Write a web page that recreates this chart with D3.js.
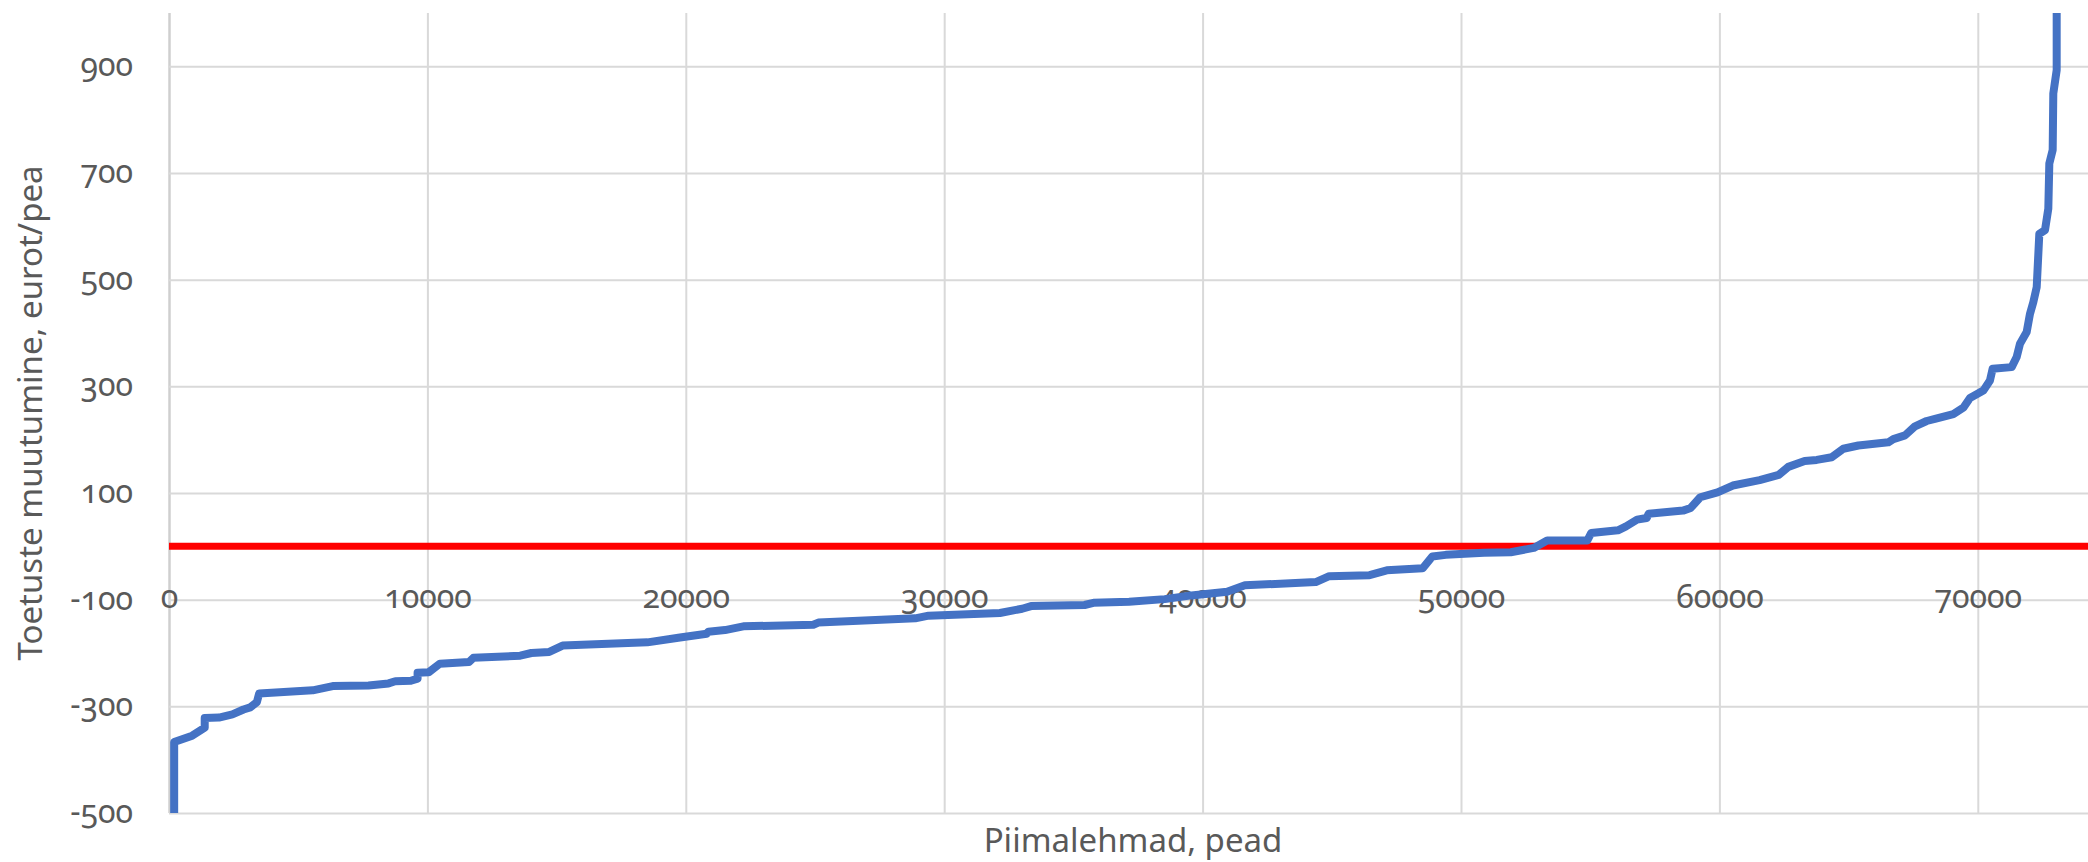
<!DOCTYPE html>
<html>
<head>
<meta charset="utf-8">
<script src="https://cdn.jsdelivr.net/npm/d3@7"></script>
<style>
  html, body { margin: 0; padding: 0; background: #fff; }
  svg text { font-family: "Noto Sans", "Open Sans", sans-serif; fill: #595959; font-variant-numeric: oldstyle-nums; }
</style>
</head>
<body>
<div id="vis"></div>
<script>
const WIDTH = 2088;
const HEIGHT = 862;

// cumulative dairy cows (x) and change in subsidies, eur/head (y)
const cows = [
	200, 200, 898, 1382, 1382, 1934, 2453, 2884, 3143, 3402, 3489, 5561, 6339, 7720, 8497, 8756,
	9361, 9620, 9620, 10052, 10484, 11606, 11779, 13592, 14024, 14715, 15233, 18515, 19776, 20808,
	20872, 21517, 22226, 24935, 25129, 26466, 28879, 29397, 32155, 33017, 33362, 35431, 35776, 37155,
	38534, 39569, 40948, 41638, 44380, 44900, 46460, 47130, 48519, 48889, 49407, 50889, 51926, 52815,
	53333, 54889, 55037, 56074, 56370, 56815, 57185, 57259, 58593, 58889, 59259, 59926, 60519, 61556,
	62296, 62667, 63300, 63766, 64345, 64796, 65377, 66538, 66731, 67183, 67570, 68022, 68343, 69053,
	69440, 69698, 70214, 70472, 70575, 71311, 71505, 71633, 71892, 72020, 72149, 72280, 72381, 72601,
	72729, 72768, 72898, 72922, 73053, 73053
];
const change = [
	-500, -367, -355, -340, -322, -321, -315, -306, -302, -292, -276, -270, -262, -261, -257, -253,
	-252, -248, -237, -236, -220, -217, -209, -205, -200, -198, -186, -180, -171, -164,
	-160, -157, -150, -147, -143, -140, -135, -130, -125, -117, -112, -110, -106, -104,
	-99, -92, -85, -73, -67, -56, -54, -45, -41, -19, -16, -12, -11, -3,
	11, 11, 25, 30, 37, 50, 53, 61, 67, 72, 92, 101, 114, 124,
	134, 149, 160, 162, 167, 183, 189, 195, 201, 208, 225, 235, 239, 248,
	260, 278, 292, 311, 333, 336, 355, 380, 402, 436, 458, 486, 586, 593,
	633, 718, 743, 849, 893, 1100
];
const xTicks = [0, 10000, 20000, 30000, 40000, 50000, 60000, 70000];
const yTicks = [-500, -300, -100, 100, 300, 500, 700, 900];
const baseline = [0];

const xTitle = "Piimalehmad, pead";
const yTitle = "Toetuste muutumine, eurot/pea";

const margin = { left: 169, right: 0, top: 13, bottom: 49 };
const plotW = WIDTH - margin.left - margin.right;
const plotH = HEIGHT - margin.top - margin.bottom;

const x = d3.scaleLinear().domain([0, 74265]).range([margin.left, WIDTH - margin.right]);
const y = d3.scaleLinear().domain([-500, 1000]).range([HEIGHT - margin.bottom, margin.top]);

// plain hyphen for negatives, as in the original
const plain = d => String(d);

const svg = d3.select('#vis')
	.append('svg')
	.attr('width', WIDTH)
	.attr('height', HEIGHT);

svg.append('clipPath')
	.attr('id', 'plot-clip')
	.append('rect')
	.attr('x', margin.left)
	.attr('y', margin.top)
	.attr('width', plotW)
	.attr('height', plotH + 2);

// vertical gridlines
const xGrid = svg.append('g')
	.attr('transform', `translate(0,${y(-500)})`)
	.call(d3.axisBottom(x).tickValues(xTicks).tickSize(-plotH).tickFormat(''));
xGrid.select('.domain').remove();
xGrid.selectAll('line')
	.attr('stroke', d => d === 0 ? '#cfcfcf' : '#d9d9d9')
	.attr('stroke-width', d => d === 0 ? 2.5 : 2);

// horizontal gridlines
const yGrid = svg.append('g')
	.attr('transform', `translate(${margin.left},0)`)
	.call(d3.axisLeft(y).tickValues(yTicks).tickSize(-plotW).tickFormat(''));
yGrid.select('.domain').remove();
yGrid.selectAll('line').attr('stroke', '#d9d9d9').attr('stroke-width', 2);

// y tick labels
const yAxis = svg.append('g')
	.attr('transform', `translate(133,0)`)
	.call(d3.axisLeft(y).tickValues(yTicks).tickSize(0).tickPadding(0).tickFormat(plain));
yAxis.select('.domain').remove();
yAxis.selectAll('text')
	.attr('x', 0)
	.attr('dy', '0.3em')
	.style('font-size', '32px');

// x tick labels, sitting on the -100 level
const xAxis = svg.append('g')
	.attr('transform', `translate(0,${y(-100)})`)
	.call(d3.axisBottom(x).tickValues(xTicks).tickSize(0).tickFormat(plain));
xAxis.select('.domain').remove();
xAxis.selectAll('text')
	.attr('y', 0)
	.attr('dy', '0.25em')
	.style('font-size', '32px');

// zero line
svg.selectAll('.zero')
	.data(baseline)
	.enter()
	.append('line')
	.attr('class', 'zero')
	.attr('x1', margin.left)
	.attr('x2', WIDTH)
	.attr('y1', d => y(d))
	.attr('y2', d => y(d))
	.attr('stroke', '#ff0000')
	.attr('stroke-width', 7);

// the distribution curve
const points = cows.map((c, i) => [c, change[i]]);
const line = d3.line().x(d => x(d[0])).y(d => y(d[1]));

svg.append('path')
	.datum(points)
	.attr('clip-path', 'url(#plot-clip)')
	.attr('d', line)
	.attr('fill', 'none')
	.attr('stroke', '#4472c4')
	.attr('stroke-width', 8)
	.attr('stroke-linejoin', 'round');

// axis titles
svg.append('text')
	.attr('x', 1133)
	.attr('y', 852)
	.attr('text-anchor', 'middle')
	.style('font-size', '33px')
	.text(xTitle);

svg.append('text')
	.attr('transform', `translate(42,${(margin.top + y(-500)) / 2}) rotate(-90)`)
	.attr('text-anchor', 'middle')
	.style('font-size', '33px')
	.text(yTitle);
</script>
</body>
</html>
